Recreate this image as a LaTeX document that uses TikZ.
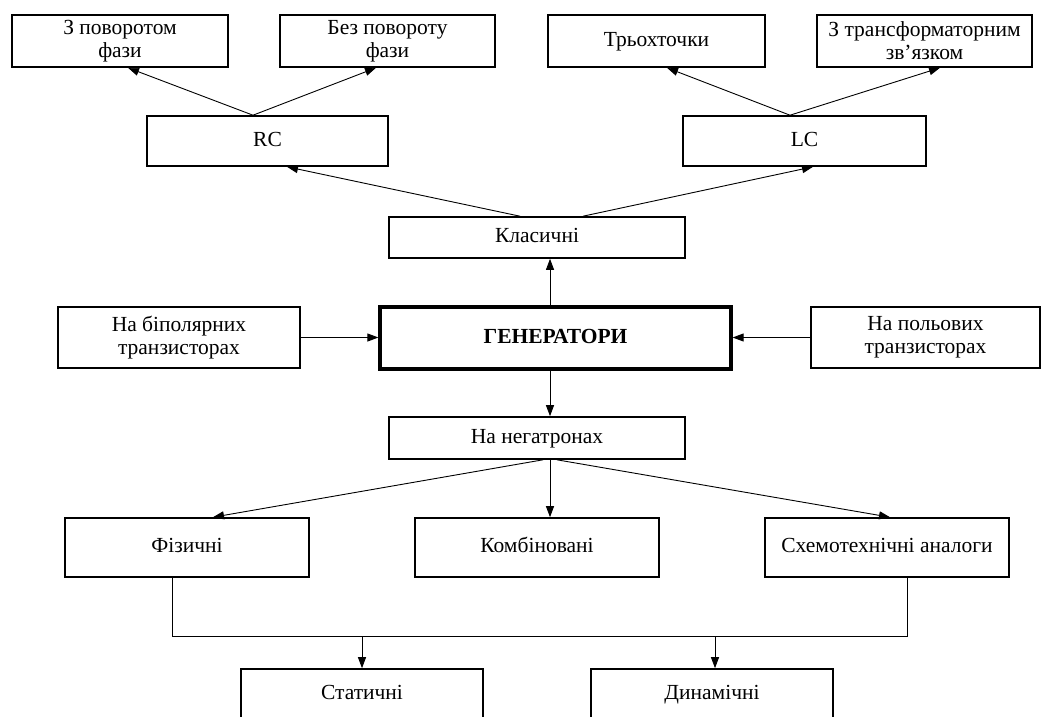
\documentclass[tikz,border=0pt]{standalone}
\usepackage{fontspec}
\setmainfont{Liberation Serif}
\usetikzlibrary{arrows.meta}
\begin{document}
\begin{tikzpicture}[x=1pt,y=-1pt,
  box/.style={draw,line width=1.6pt,inner sep=0pt,align=center,
    font=\fontsize{21.5}{23}\selectfont},
  one/.style={text height=15pt,text depth=5pt},
  mainbox/.style={box,one,line width=3.2pt,font=\bfseries\fontsize{21.5}{23}\selectfont},
  arr/.style={line width=0.9pt,-{Triangle[length=11pt,width=8pt]}},
  ln/.style={line width=0.9pt}]
\useasboundingbox (0,0) rectangle (1043,716);
\clip (0,0) rectangle (1043,716);
% top row
\node[box,minimum width=216,minimum height=52] (zp) at (120,41) {З поворотом\\фази};
\node[box,minimum width=215,minimum height=52] (bp) at (387.5,41) {Без повороту\\фази};
\node[box,one,minimum width=217,minimum height=52] (tr) at (656.5,41) {Трьохточки};
\node[box,minimum width=215,minimum height=52] (zt) at (924.5,41) {З трансформаторним\\зв’язком};
% RC / LC
\node[box,one,minimum width=241,minimum height=50] (rc) at (267.5,141) {RC};
\node[box,one,minimum width=243,minimum height=50] (lc) at (804.5,141) {LC};
% classic
\node[box,one,minimum width=296,minimum height=41] (kl) at (537,237.5) {Класичні};
% generators row
\node[mainbox,minimum width=351,minimum height=62] (gen) at (555.5,338) {ГЕНЕРАТОРИ};
\node[box,minimum width=242,minimum height=61] (bip) at (179,337.5) {На біполярних\\транзисторах};
\node[box,minimum width=229,minimum height=61] (pol) at (925.5,337.5) {На польових\\транзисторах};
% negatrons
\node[box,one,minimum width=296,minimum height=42] (neg) at (537,438) {На негатронах};
\node[box,one,minimum width=244,minimum height=59] (fiz) at (187,547.5) {Фізичні};
\node[box,one,minimum width=244,minimum height=59] (kom) at (537,547.5) {Комбіновані};
\node[box,one,minimum width=244,minimum height=59] (sch) at (887,547.5) {Схемотехнічні аналоги};
% bottom (cut off)
\node[box,one,minimum width=242,minimum height=50] (sta) at (362,694) {Статичні};
\node[box,one,minimum width=242,minimum height=50] (din) at (712,694) {Динамічні};
% connectors top
\draw[arr] ([xshift=-14.5pt]rc.north) -- ([xshift=8pt]zp.south);
\draw[arr] ([xshift=-14.5pt]rc.north) -- ([xshift=-11.5pt]bp.south);
\draw[arr] ([xshift=-14.5pt]lc.north) -- ([xshift=10.5pt]tr.south);
\draw[arr] ([xshift=-14.5pt]lc.north) -- ([xshift=15.5pt]zt.south);
\draw[arr] ([xshift=-17pt]kl.north) -- ([xshift=19.5pt]rc.south);
\draw[arr] ([xshift=46pt]kl.north) -- ([xshift=8.5pt]lc.south);
% generators
\coordinate (vx) at (550,0);
\draw[arr] (gen.north -| vx) -- (kl.south -| vx);
\draw[arr] (bip.east) -- (bip.east -| gen.west);
\draw[arr] (pol.west) -- (pol.west -| gen.east);
\draw[arr] (gen.south -| vx) -- (neg.north -| vx);
% negatrons
\draw[arr] ([xshift=6pt]neg.south) -- ([xshift=26pt]fiz.north);
\draw[arr] ([xshift=13pt]neg.south) -- ([xshift=13pt]kom.north);
\draw[arr] ([xshift=20pt]neg.south) -- ([xshift=3pt]sch.north);
% bottom bus
\coordinate (bl) at (172,636);
\coordinate (br) at (907,636);
\draw[ln] (fiz.south -| bl) -- (bl) -- (br) -- (sch.south -| br);
\draw[arr] (sta.north |- bl) -- (sta.north);
\draw[arr] ([xshift=3pt]din.north |- bl) -- ([xshift=3pt]din.north);
\end{tikzpicture}
\end{document}
